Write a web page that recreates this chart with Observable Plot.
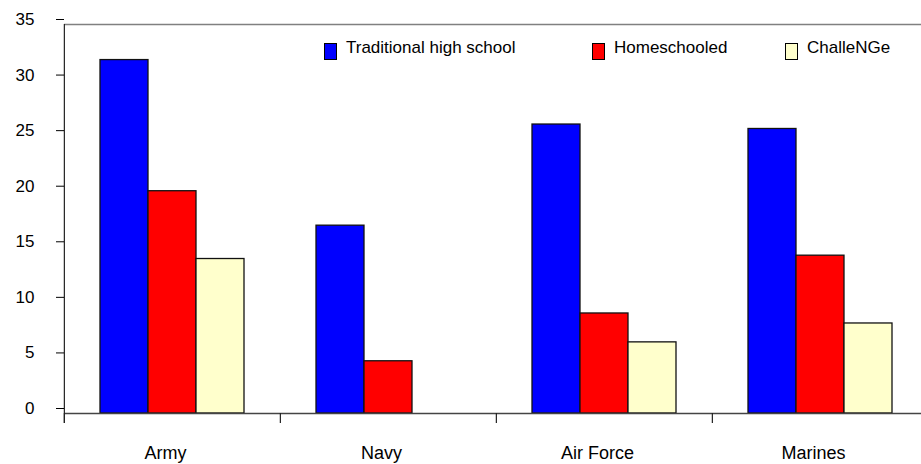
<!DOCTYPE html>
<html><head><meta charset="utf-8">
<script src="https://cdn.jsdelivr.net/npm/d3@7"></script>
<script src="https://cdn.jsdelivr.net/npm/@observablehq/plot@0.6"></script>
<style>
html,body{margin:0;padding:0;overflow:hidden;background:#fff;font-family:"Liberation Sans",Arial,sans-serif}
#wrap{position:relative;width:921px;height:464px;overflow:hidden}
.legend{position:absolute;top:0;left:0;width:921px;height:70px;pointer-events:none}
.item{position:absolute;top:38px;font-size:17px;line-height:20px;color:#000;white-space:nowrap}
.sw{position:absolute;top:5px;left:0;width:11px;height:15px;border:1px solid #000;box-sizing:content-box}
.lbl{position:absolute;top:0;left:22px}
</style></head><body><div id="wrap"></div>
<script>
const categories = ["Army", "Navy", "Air Force", "Marines"];
const series = ["Traditional high school", "Homeschooled", "ChalleNGe"];
const traditional = [31.8, 16.9, 26.0, 25.6];
const homeschooled = [20.0, 4.7, 9.0, 14.2];
const challenge = [13.9, null, 6.4, 8.1];
const colors = ["#0000ff", "#ff0000", "#ffffcc"];
const yTicks = [0, 5, 10, 15, 20, 25, 30, 35];
const legendLeft = [324, 592, 785];

const rows = [];
categories.forEach((c, i) => {
  [traditional, homeschooled, challenge].forEach((arr, j) => {
    if (arr[i] != null) rows.push({category: c, series: series[j], value: arr[i]});
  });
});

const W = 921, H = 464, mL = 63, mR = -8, mT = 24, mB = 51;
const outer = 0.75;
const facetW = (W - mL - mR) / categories.length;
const step = facetW / (series.length + 2 * outer);
const edgeDx = -(0.5 + outer) * step;

const chart = Plot.plot({
  width: W, height: H,
  marginLeft: mL, marginRight: mR, marginTop: mT, marginBottom: mB,
  style: {fontFamily: "Liberation Sans, Arial, sans-serif", fontSize: "17px", overflow: "hidden", background: "white", color: "black"},
  fx: {domain: categories, padding: 0},
  x: {domain: series, paddingInner: 0, paddingOuter: outer, axis: null},
  y: {domain: [0, 35]},
  color: {domain: series, range: colors},
  marks: [
    Plot.ruleY([35], {stroke: "#808080", strokeWidth: 1.5}),
    Plot.barY(rows, {fx: "category", x: "series", y: "value", fill: "series", stroke: "#111", strokeWidth: 1.3}),
    Plot.ruleY([0], {stroke: "#444", strokeWidth: 1.5}),
    Plot.ruleX([series[0]], {x: d => d, dx: edgeDx, y1: 0, y2: 0, insetBottom: -10, stroke: "#222", strokeWidth: 1.2}),
    Plot.ruleX([categories[0]], {fx: d => d, x: () => series[0], dx: edgeDx, y1: 35, y2: 0, insetBottom: -10, stroke: "#222", strokeWidth: 1.2}),
    Plot.axisY({ticks: yTicks, tickFormat: d => d, tickSize: 8, tickPadding: 22, fontSize: 17, dy: -5, label: null, anchor: "left"}),
    Plot.axisFx({anchor: "bottom", tickSize: 0, tickPadding: 33, fontSize: 18, label: null, dx: -7})
  ]
});
const wrap = document.getElementById("wrap");
wrap.appendChild(chart);

const legend = document.createElement("div");
legend.className = "legend";
series.forEach((s, i) => {
  const item = document.createElement("div");
  item.className = "item";
  item.style.left = legendLeft[i] + "px";
  const sw = document.createElement("div");
  sw.className = "sw";
  sw.style.background = colors[i];
  const lbl = document.createElement("span");
  lbl.className = "lbl";
  lbl.textContent = s;
  item.appendChild(sw); item.appendChild(lbl);
  legend.appendChild(item);
});
wrap.appendChild(legend);
</script></body></html>
